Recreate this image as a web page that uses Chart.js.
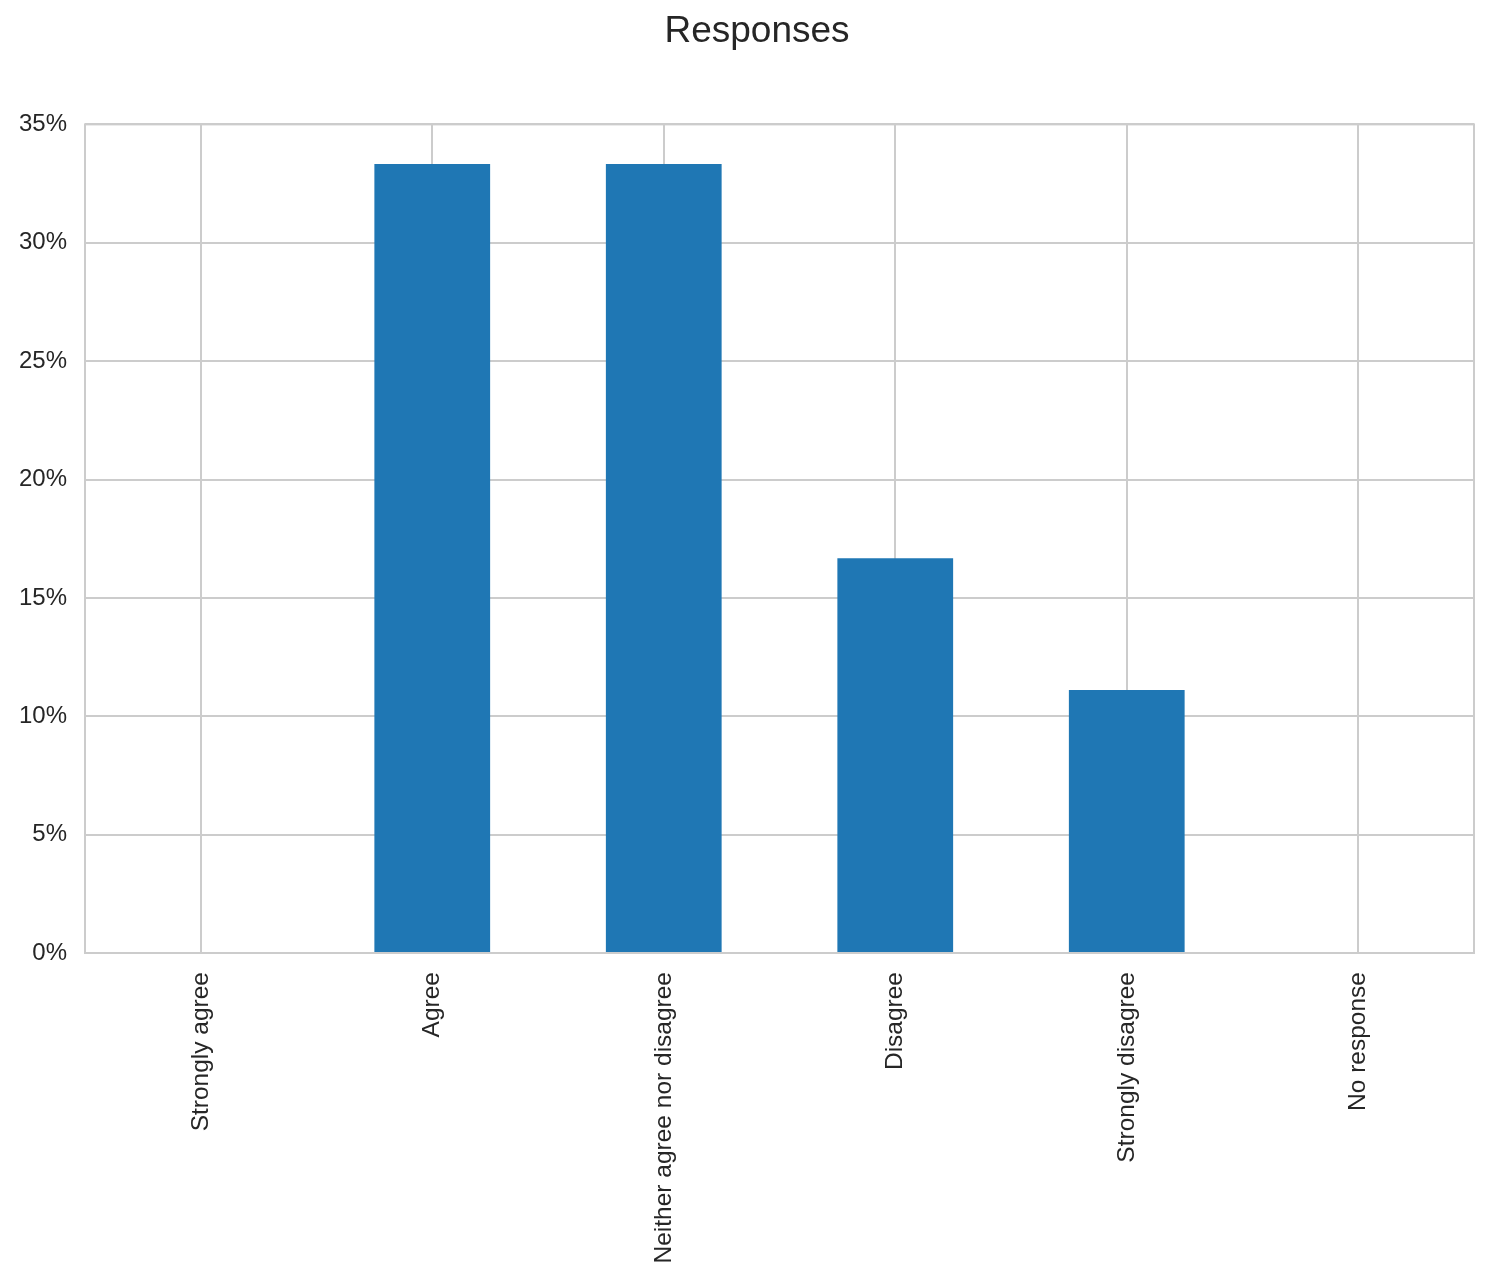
<!DOCTYPE html>
<html>
<head>
<meta charset="utf-8">
<title>Responses</title>
<script src="https://cdn.jsdelivr.net/npm/chart.js@4"></script>
<style>
    html, body { margin: 0; padding: 0; background: #ffffff; }
    #wrap { width: 1492px; height: 1285px; position: relative; }
</style>
</head>
<body>
<div id="wrap"><canvas id="responsesChart"></canvas></div>
<script>
// ======= Data =======
const categories = ['Strongly agree', 'Agree', 'Neither agree nor disagree', 'Disagree', 'Strongly disagree', 'No response'];
const percentValues = [0, 33.33, 33.33, 16.67, 11.11, 0];
const yTickValues = [0, 5, 10, 15, 20, 25, 30, 35];

const TEXT_COLOR = '#262626';
const GRID_COLOR = '#cccccc';
const BAR_COLOR = '#1f77b4';
const FONT = 'Arial, "Liberation Sans", sans-serif';

// ======= Draw the light box round the plot area =======
const frameBox = {
    id: 'frameBox',
    afterLayout(chart) {
        // nudge the title so it sits where the reference has it
        if (chart.titleBlock) chart.titleBlock.left = 40;
    },
    beforeDatasetsDraw(chart) {
        const { ctx, chartArea } = chart;
        ctx.save();
        ctx.strokeStyle = GRID_COLOR;
        ctx.lineWidth = 2;
        ctx.strokeRect(chartArea.left, chartArea.top, chartArea.right - chartArea.left, chartArea.bottom - chartArea.top);
        ctx.restore();
    }
};

new Chart(document.getElementById('responsesChart'), {
    type: 'bar',
    data: {
        labels: categories,
        datasets: [{
            label: 'Responses',
            data: percentValues,
            backgroundColor: BAR_COLOR,
            borderWidth: 0,
            barPercentage: 0.5,
            categoryPercentage: 1.0
        }]
    },
    options: {
        responsive: true,
        maintainAspectRatio: false,
        animation: false,
        layout: { padding: { left: 0, right: 18, top: 0, bottom: 0 } },
        plugins: {
            legend: { display: false },
            tooltip: { enabled: false },
            title: {
                display: true,
                text: 'Responses',
                color: TEXT_COLOR,
                font: { family: FONT, size: 37, weight: 'normal' },
                padding: { top: 10, bottom: 70 }
            }
        },
        scales: {
            x: {
                grid: { color: GRID_COLOR, lineWidth: 2, offset: false, drawTicks: false },
                border: { display: false },
                ticks: {
                    color: TEXT_COLOR,
                    font: { family: FONT, size: 24.5 },
                    minRotation: 90,
                    maxRotation: 90,
                    padding: 19,
                    autoSkip: false
                },
                afterFit(scale) { scale.height = 332; }
            },
            y: {
                min: 0,
                max: 35,
                afterBuildTicks(scale) { scale.ticks = yTickValues.map(v => ({ value: v })); },
                grid: { color: GRID_COLOR, lineWidth: 2, drawTicks: false },
                border: { display: false },
                ticks: {
                    color: TEXT_COLOR,
                    font: { family: FONT, size: 24 },
                    padding: 18,
                    callback: v => v + '%'
                },
                afterFit(scale) { scale.width = 85; }
            }
        }
    },
    plugins: [frameBox]
});
</script>
</body>
</html>
